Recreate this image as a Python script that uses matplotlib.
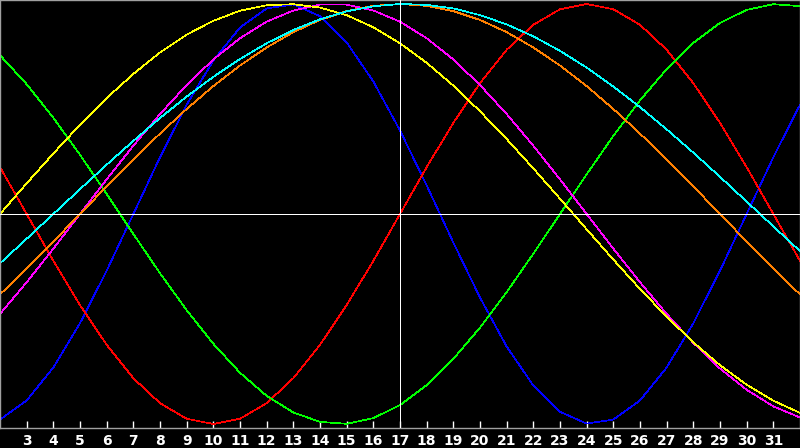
import matplotlib
matplotlib.use("Agg")
import matplotlib.pyplot as plt

# day numbers shown on the axis (data runs edge to edge)
days = list(range(2, 33))
tick_days = list(range(3, 32))

# curve values, one per day (2 .. 32)
physical = [-0.979, -0.888, -0.731, -0.520, -0.270, 0.000, 0.270, 0.520, 0.731, 0.888,
            0.979, 0.998, 0.942, 0.817, 0.631, 0.398, 0.136, -0.136, -0.398, -0.631,
            -0.817, -0.942, -0.998, -0.979, -0.888, -0.731, -0.520, -0.270, 0.000, 0.270,
            0.520]
emotional = [0.223, 0.000, -0.223, -0.434, -0.623, -0.782, -0.901, -0.975, -1.000, -0.975,
             -0.901, -0.782, -0.623, -0.434, -0.223, 0.000, 0.223, 0.434, 0.623, 0.782,
             0.901, 0.975, 1.000, 0.975, 0.901, 0.782, 0.623, 0.434, 0.223, 0.000,
             -0.223]
intellectual = [0.756, 0.618, 0.458, 0.282, 0.095, -0.095, -0.282, -0.458, -0.618, -0.756,
                -0.866, -0.945, -0.990, -0.999, -0.972, -0.910, -0.815, -0.690, -0.541, -0.372,
                -0.189, 0.000, 0.189, 0.372, 0.541, 0.690, 0.815, 0.910, 0.972, 0.999,
                0.990]
intuitive = [-0.476, -0.325, -0.165, 0.000, 0.165, 0.325, 0.476, 0.614, 0.736, 0.837,
             0.916, 0.969, 0.997, 0.997, 0.969, 0.916, 0.837, 0.736, 0.614, 0.476,
             0.325, 0.165, 0.000, -0.165, -0.325, -0.476, -0.614, -0.736, -0.837, -0.916,
             -0.969]
aesthetic = [0.000, 0.146, 0.288, 0.425, 0.552, 0.667, 0.769, 0.854, 0.920, 0.968,
             0.994, 0.999, 0.983, 0.947, 0.889, 0.813, 0.720, 0.611, 0.489, 0.357,
             0.217, 0.073, -0.073, -0.217, -0.357, -0.489, -0.611, -0.720, -0.813, -0.889,
             -0.947]
awareness = [-0.383, -0.259, -0.131, 0.000, 0.131, 0.259, 0.383, 0.500, 0.609, 0.707,
             0.793, 0.866, 0.924, 0.966, 0.991, 1.000, 0.991, 0.966, 0.924, 0.866,
             0.793, 0.707, 0.609, 0.500, 0.383, 0.259, 0.131, 0.000, -0.131, -0.259,
             -0.383]
spiritual = [-0.235, -0.118, 0.000, 0.118, 0.235, 0.348, 0.457, 0.559, 0.653, 0.738,
             0.813, 0.876, 0.927, 0.965, 0.989, 1.000, 0.996, 0.979, 0.947, 0.903,
             0.846, 0.777, 0.697, 0.607, 0.509, 0.403, 0.292, 0.177, 0.059, -0.059,
             -0.177]

series = [
    (physical, "#0000ff"),
    (emotional, "#ff0000"),
    (intellectual, "#00ff00"),
    (intuitive, "#ff00ff"),
    (aesthetic, "#ffff00"),
    (awareness, "#ff8000"),
    (spiritual, "#00ffff"),
]
today = 17

fig = plt.figure(figsize=(8, 4.48), dpi=100, facecolor="black")
ax = fig.add_axes([0, 20 / 448, 1, 428 / 448])
ax.set_facecolor("black")

for values, colour in series:
    ax.plot(days, values, color=colour, lw=0.5, antialiased=False)

# crosshair on today / zero line
ax.axvline(today, color="white", lw=0.6, antialiased=False, zorder=5)
ax.axhline(0, color="white", lw=0.6, antialiased=False, zorder=5)

ax.set_xlim(2, 32)
ax.set_ylim(-214 / 210, 214 / 210)
ax.set_xticks(tick_days)
ax.set_xticklabels([str(d) for d in tick_days])
ax.set_yticks([])
ax.tick_params(axis="x", direction="in", length=5, width=1, color="white",
               labelcolor="white", labelsize=10, pad=4)
for lab in ax.get_xticklabels():
    lab.set_fontweight("bold")
for side in ax.spines.values():
    side.set_color("#a0a0a0")
    side.set_linewidth(1.0)

fig.savefig("out.png", dpi=100, facecolor="black")
